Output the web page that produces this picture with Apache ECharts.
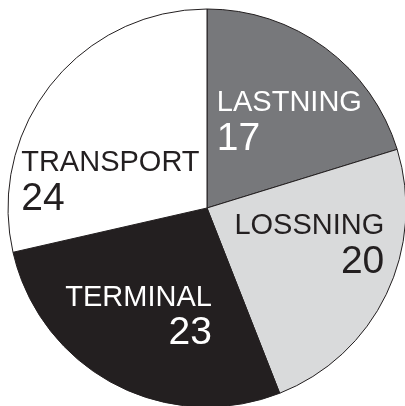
<!DOCTYPE html>
<html>
<head>
<meta charset="utf-8">
<script src="https://cdn.jsdelivr.net/npm/echarts@6/dist/echarts.min.js"></script>
<style>
  html, body { margin: 0; padding: 0; background: #fff; }
  #main { width: 405px; height: 406px; }
</style>
</head>
<body>
<div id="main"></div>
<script>
// data
var categories = ["LASTNING", "LOSSNING", "TERMINAL", "TRANSPORT"];
var values = [17, 20, 23, 24];

// slice styling
var sliceColors = ["#77787b", "#d9dadb", "#231f20", "#ffffff"];
var textColors = ["#ffffff", "#231f20", "#ffffff", "#231f20"];
var textAligns = ["left", "right", "right", "left"];
// padding shifts each label off the default inside anchor
var labelPads = [[0, 0, 5, 43], [0, 0, 12, 20], [38, 41, 0, 0], [78, 33, 0, 0]];

var myChart = echarts.init(document.getElementById("main"));

var seriesData = categories.map(function (name, i) {
  var a = textAligns[i];
  return {
    name: name,
    value: values[i],
    itemStyle: { color: sliceColors[i] },
    label: {
      padding: labelPads[i],
      color: textColors[i],
      formatter: "{n|{b}}\n{v|{c}}",
      rich: {
        n: { fontSize: 29, lineHeight: 32, align: a, color: textColors[i], fontFamily: "Liberation Sans, Arial, sans-serif" },
        v: { fontSize: 39, lineHeight: 40, align: a, color: textColors[i], fontFamily: "Liberation Sans, Arial, sans-serif" }
      }
    }
  };
});

var option = {
  animation: false,
  backgroundColor: "#ffffff",
  series: [
    {
      type: "pie",
      center: [207, 208],
      radius: [0, 199],
      startAngle: 90,
      clockwise: true,
      itemStyle: {
        borderColor: "#231f20",
        borderWidth: 1
      },
      label: {
        show: true,
        position: "inside"
      },
      labelLine: { show: false },
      emphasis: { disabled: true },
      data: seriesData
    }
  ]
};
myChart.setOption(option);
</script>
</body>
</html>
